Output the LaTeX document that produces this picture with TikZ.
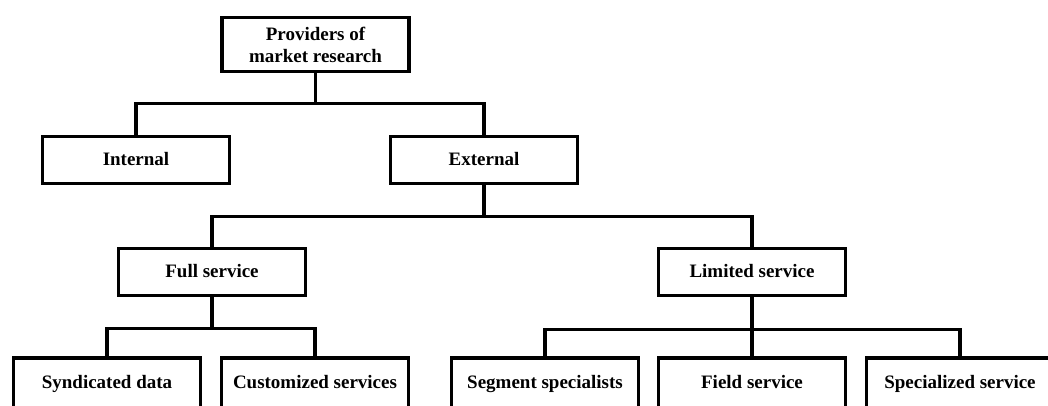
\documentclass[tikz,border=0pt]{standalone}
\usepackage{fontspec}
\setmainfont{Liberation Serif}
\usetikzlibrary{shadows}

\begin{document}
\begin{tikzpicture}[x=0.025cm, y=-0.025cm,
        orgbox/.style={draw, line width=2.8pt, fill=white, minimum width=4.675cm, minimum height=1.175cm,
            inner sep=0pt, align=center, font=\fontsize{13.5}{15.6}\selectfont\bfseries,
            drop shadow={shadow xshift=1.2pt, shadow yshift=-1.2pt, opacity=0.3}},
        onebox/.style={orgbox, text height=2.2ex, text depth=0.45ex},
        lowbox/.style={onebox, minimum height=1.25cm},
        orgline/.style={line width=2.8pt}]
        \useasboundingbox (0, 0) rectangle (1048, 406);
        \clip (0, 0) rectangle (1048, 406);

        % ---top level
        \node[orgbox, minimum height=1.35cm] (prov) at (315.5, 44.5) {Providers of\\market research};

        % ---internal / external
        \node[onebox] (int) at (136, 160) {Internal};
        \node[onebox] (ext) at (484, 160) {External};

        % ---kinds of external suppliers
        \node[onebox] (full) at (212, 272) {Full service};
        \node[onebox] (lim) at (752, 272) {Limited service};

        % ---bottom row (runs off the page)
        \node[lowbox] (synd) at (107, 383) {Syndicated data};
        \node[lowbox] (cust) at (315, 383) {Customized services};
        \node[lowbox] (seg) at (545, 383) {Segment specialists};
        \node[lowbox] (field) at (752, 383) {Field service};
        \node[lowbox] (spec) at (960, 383) {Specialized service};

        % ---connectors
        \draw[orgline] (prov.south) -- ++(0, 30) -| (int.north);
        \draw[orgline] (prov.south) -- ++(0, 30) -| (ext.north);

        \draw[orgline] (ext.south) -- ++(0, 31) -| (full.north);
        \draw[orgline] (ext.south) -- ++(0, 31) -| (lim.north);

        \draw[orgline] (full.south) -- ++(0, 31) -| (synd.north);
        \draw[orgline] (full.south) -- ++(0, 31) -| (cust.north);

        \draw[orgline] (lim.south) -- ++(0, 32) -| (seg.north);
        \draw[orgline] (lim.south) -- (field.north);
        \draw[orgline] (lim.south) -- ++(0, 32) -| (spec.north);
    \end{tikzpicture}
\end{document}
